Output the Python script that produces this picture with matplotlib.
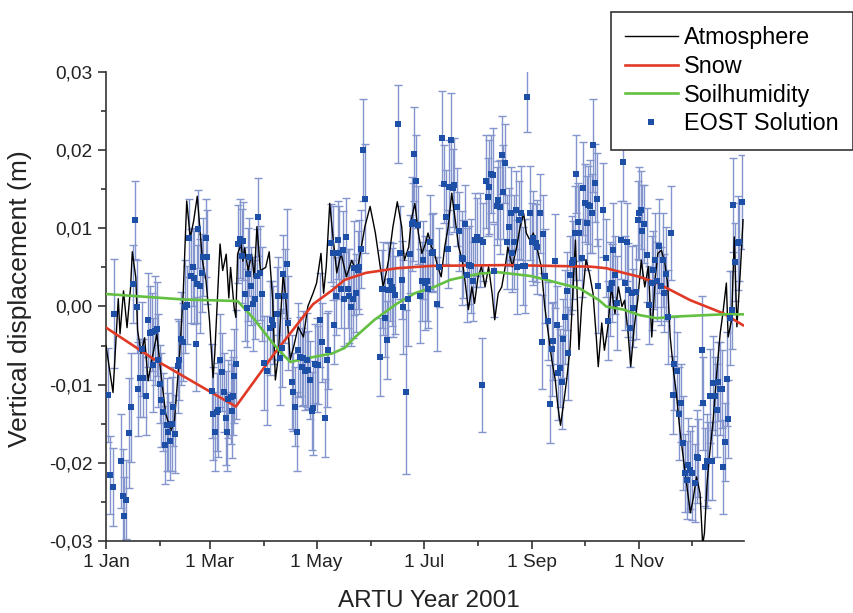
import numpy as np
import matplotlib
matplotlib.use("Agg")
import matplotlib.pyplot as plt
from matplotlib.ticker import FuncFormatter, MultipleLocator

plt.rcParams['font.family'] = ['Liberation Sans', 'DejaVu Sans']

# day of year 2001, values in mm (converted to m below)
atm_day = [1, 3, 5, 7, 8, 9, 11, 13, 15, 16, 18, 19, 21, 23, 25, 27, 30, 32, 35, 38,
           40, 43, 45, 47, 49, 51, 53, 54, 56, 58, 60, 62, 63, 64.5, 66, 67.5, 69.5, 71, 72, 74,
           75, 76, 78, 79, 80, 82, 84, 85.5, 87, 89, 92, 94, 96, 97.5, 99, 102, 103.5, 106, 108, 110.5,
           113.5, 116, 119, 121, 123.5, 125, 126.5, 128.5, 130.5, 132.5, 135, 138, 141, 144, 146.5, 148.5, 151.5, 154.5, 157, 159,
           162, 164.5, 167, 169.5, 171, 173.5, 175, 177, 179, 181, 183, 184.5, 186.5, 188, 190, 192, 194, 196, 198, 200,
           202, 204, 205.5, 207.5, 209.5, 211, 213, 215, 217, 219, 221, 222.5, 224.5, 226.5, 228.5, 230, 232.5, 235, 237, 239,
           240.5, 242.5, 244.5, 246.5, 249, 251, 253, 255, 257, 258.5, 260, 261.5, 263.5, 265.5, 267, 268.5, 270.5, 272, 274.5, 276.5,
           278.5, 280.5, 281.5, 283.5, 285, 287, 289, 291, 293, 295, 296.5, 298.5, 300, 302, 304, 306, 308, 310, 312, 314,
           315.5, 317.5, 319.5, 321, 322.5, 324.5, 326, 328, 331, 334, 335.5, 337.5, 339.5, 341, 342, 343.5, 345, 347, 349, 351,
           352.5, 354.5, 355.5, 357.5, 359, 360.5, 362.5, 364]
atm_mm = [-5, -8, -11, -3, 1, -3.5, 2, -2.7, 2.4, 7, 3.7, -3, -6, -4, -9.5, -7, -3.5, -8, -13.7, -15.9,
          -14.6, -6, 1.6, 13.5, 8.8, 11, 14.1, 11.4, 5.8, 3.3, -1.8, -9.1, -6, 1.1, 8, 4.6, 6.7, 1.1, 5, -0.1,
          -1.4, 6.7, 8, 5.8, 7.5, 4.6, 6.7, 3.7, 10.2, 4.6, 5, 7, 0.8, -9.4, -6.8, 4.3, 0.8, -6.8, -5.1, -2.6,
          -3.9, 0, 1.7, 3, 6.8, 1.7, 5.1, 13.2, 8.5, 4.3, 6.8, 3.8, 5.9, 4.3, 7.6, 10.2, 12.8, 9.4, 5.5, 2.5,
          5.9, 10.2, 13.4, 10.2, 5.9, 7.6, 11.1, 13.2, 9.4, 6.8, 8, 9.4, 7.6, 7, 5.1, 3.8, 7.6, 10.2, 14.5, 11.1,
          7.6, 5.9, 3.4, -0.4, 2.5, 0.4, 3.8, 5.1, 2.5, 5.1, 1.7, -1.7, 1.7, 2.5, 5.1, 7.6, 5.1, 7.6, 10.2, 11.9,
          9.4, 8.5, 9.4, 7.6, 5.1, 0, -3.4, -6.8, -9.4, -12.8, -15.2, -12.8, -9.4, -5.1, 1.7, 8.5, -5.5, 0, 6, 4.2,
          1.7, -4.3, -7.7, -2.1, -5.6, -2.6, 2.5, -0.9, 2.5, 0, 0.8, -3.4, -7.7, -2.6, 0.8, 5.9, 2.5, 5.1, -3.9, 3.8,
          6.8, 7.2, 5.5, 3, -3.9, -8.5, -11.1, -15.8, -21.3, -26.4, -24.7, -21.8, -23.9, -30.5, -29, -22.6, -18.8, -14.5, -8.5, -3.4,
          -0.9, 3, -3.9, -1.7, 8.9, -2.6, 4.7, 11.1]

snow_day = [1, 28, 75, 97, 119, 130, 137, 149, 167, 187, 230, 277, 286, 296, 305, 315, 334, 353, 364]
snow_mm = [-2.7, -6.7, -12.8, -6.0, 0.3, 2.1, 3.4, 4.3, 4.9, 5.2, 5.3, 5.1, 4.9, 4.3, 3.8, 3.0, 0.8, -0.9, -2.4]

soil_day = [1, 45, 76, 85, 95, 100, 106, 116, 130, 137, 143, 154, 167, 177, 188, 197, 205, 214, 224, 243,
            252, 271, 282, 286, 296, 305, 315, 324, 353, 364]
soil_mm = [1.6, 0.9, 0.7, -1.5, -4.4, -5.7, -7.1, -6.6, -6.0, -5.3, -3.9, -1.7, 0.4, 1.7, 2.5, 3.4, 3.8, 4.2, 4.4, 3.9,
           3.4, 2.3, 0.8, 0.0, -0.4, -1.1, -1.5, -1.3, -1.0, -1.0]

eost_day = [2.3, 3.3, 4.8, 5.6, 9.4, 10.5, 11.4, 12.4, 14.3, 15.2, 16.6, 17.5, 18.5, 19.4, 20.4, 21.3, 22.3, 23.6, 25.1, 26.1,
            27.0, 28.0, 28.9, 29.9, 30.8, 31.8, 32.3, 33.7, 34.6, 35.6, 36.5, 37.5, 38.4, 39.4, 40.3, 41.8, 42.8, 43.7, 45.1, 46.0,
            47.3, 48.1, 49.2, 50.4, 51.3, 52.3, 52.7, 53.6, 54.6, 55.5, 56.5, 58.0, 58.7, 61.2, 62.2, 63.1, 64.1, 65.0, 66.0, 67.3,
            68.2, 69.2, 70.1, 70.7, 72.0, 73.0, 73.6, 74.1, 74.9, 76.4, 77.4, 78.3, 79.3, 80.2, 81.2, 82.1, 82.7, 83.6, 85.0, 85.9,
            86.8, 87.8, 88.7, 90.1, 91.2, 92.5, 94.4, 95.4, 96.3, 98.2, 99.2, 100.1, 101.1, 102.0, 103.0, 103.9, 104.9, 107.2, 107.7, 108.7,
            109.6, 110.6, 111.5, 112.5, 113.4, 114.4, 115.3, 116.3, 117.2, 118.2, 119.1, 120.1, 121.0, 122.0, 122.9, 123.9, 125.8, 126.7, 127.7, 129.2,
            130.2, 131.1, 132.1, 133.0, 134.0, 134.9, 135.9, 136.8, 137.8, 138.7, 139.7, 140.6, 141.6, 142.5, 143.5, 144.4, 145.4, 146.3, 147.6, 148.6,
            157.1, 158.1, 159.0, 160.0, 160.9, 161.9, 162.8, 163.8, 164.7, 165.7, 167.6, 168.5, 169.5, 170.4, 171.8, 172.9, 174.2, 175.2, 176.1, 176.7,
            177.6, 178.6, 179.9, 180.9, 181.8, 182.8, 183.7, 184.7, 185.6, 186.6, 187.5, 189.4, 190.9, 192.6, 193.6, 194.7, 195.7, 196.4, 197.6, 198.5,
            199.5, 200.8, 202.3, 203.6, 204.6, 205.5, 206.5, 207.8, 208.8, 209.9, 211.2, 212.2, 214.1, 215.0, 216.0, 217.5, 218.5, 219.4, 220.4, 221.3,
            222.3, 223.6, 224.5, 225.5, 226.4, 227.4, 228.3, 229.7, 230.6, 231.6, 232.5, 233.5, 234.4, 235.4, 236.3, 237.3, 238.8, 239.7, 241.1, 242.6,
            243.5, 244.5, 245.8, 246.8, 248.3, 249.2, 250.2, 251.1, 253.0, 254.0, 254.9, 255.9, 256.8, 257.8, 258.7, 259.7, 260.6, 261.6, 262.5, 263.5,
            264.4, 265.4, 266.3, 267.3, 268.2, 268.8, 269.7, 270.7, 272.0, 273.0, 273.9, 274.9, 275.8, 276.8, 277.7, 278.7, 279.6, 280.6, 281.5, 284.4,
            285.9, 287.2, 288.2, 289.1, 290.1, 291.0, 292.0, 294.3, 295.8, 296.7, 297.7, 298.6, 299.6, 300.5, 301.5, 302.8, 303.9, 304.9, 305.7, 306.6,
            307.6, 309.1, 310.6, 311.9, 312.9, 314.0, 315.2, 316.1, 317.1, 318.2, 319.0, 320.1, 321.4, 323.0, 323.9, 324.9, 326.2, 327.5, 328.5, 330.0,
            331.0, 331.9, 332.8, 333.8, 334.7, 336.6, 337.6, 338.5, 340.4, 341.0, 342.3, 343.3, 344.2, 345.2, 346.1, 347.1, 348.0, 349.0, 349.9, 350.9,
            351.8, 352.8, 353.7, 354.7, 355.6, 356.6, 357.5, 358.5, 359.4, 361.0, 361.9, 363.2]
eost_mm = [-11.3, -21.6, -23.1, -0.9, -19.8, -24.2, -26.8, -24.7, -16.2, -12.9, 2.9, 11.1, 0, -10.6, -9.1, -5.4, -9.2, -11.5, -1.7, -3.4,
           -3.3, -7.5, -3.1, -2.9, -6.9, -9.9, -12.0, -13.5, -17.7, -15.1, -16.1, -17.2, -15.0, -12.8, -16.3, -7.6, -6.9, -4.1, -4.5, 0,
           0.2, 8.8, 3.9, 5.1, 3.7, -4.8, 2.9, 9.9, 2.6, 4.3, 6.3, 8.8, 6.3, -10.8, -13.7, -16.0, -13.5, -13.2, -6.9, -8.4,
           -11.0, -14.3, -16.0, -11.8, -11.6, -13.4, -11.5, -8.9, -7.4, 8.0, 8.7, 6.5, 8.4, 1.6, -0.2, 4.1, 6.3, 2.6, 0.3, 0.9,
           3.9, 11.4, 4.3, 1.6, -7.2, -8.2, -2.8, -1.7, -2.4, -0.9, 1.3, -6.6, -5.3, 4.2, 1.3, 5.5, -2.1, -9.7, -10.9, -12.8,
           -16.0, -5.6, -6.4, -7.7, -6.6, -8.3, -6.8, -8.1, -9.4, -13.4, -13.0, -7.3, -7.5, -7.5, -1.7, -4.6, -14.3, -6.8, -5.6, 8.1,
           6.8, -2.4, 1.3, 8.5, 6.9, 2.3, 7.2, 1.0, 8.9, 2.3, 1.3, 0, 1.0, 4.9, 1.7, 4.7, 5.1, 7.4, 20.0, 13.8,
           -6.5, 2.2, 2.3, -1.5, -4.3, 2.1, 3.2, 2.5, 2.1, 1.5, 23.3, 6.9, 3.4, -0.1, -10.9, 0.9, 6.7, 10.6, 10.8, 19.5,
           16.0, 10.4, 1.3, 3.2, 5.9, 3.0, 3.2, 2.2, 8.3, 6.8, 7.0, 0.3, 5.0, 21.6, 15.7, 11.5, 7.4, 15.3, 21.3, 15.2,
           15.5, 12.7, 9.6, 6.2, 6.1, 10.5, 4.0, 5.3, 5.2, 3.2, 8.5, 8.9, 8.5, -10.0, 8.2, 16.0, 14.0, 15.3, 17.0, 16.8,
           4.6, 12.9, 13.6, 12.7, 19.4, 14.6, 18.3, 8.3, 10.2, 11.9, 6.9, 8.3, 12.3, 5.1, 11.1, 12.0, 5.2, 5.2, 26.8, 12.0,
           8.3, 8.8, 8.1, 7.6, 11.9, -4.5, 9.3, 3.9, -1.9, -12.5, -5.5, -4.4, 5.8, -2.4, -8.5, -7.9, -9.7, -4.1, -1.3, 2.0,
           -6.0, 4.0, 5.6, 5.9, 9.4, 17.0, 10.8, 9.4, 6.2, 15.1, 13.2, 10.7, 13.0, 12.8, 11.9, 20.6, 15.8, 13.7, 2.6, 12.3,
           6.2, -1.8, 2.2, 3.0, 7.2, 4.0, 0.4, 8.5, 18.5, 3.0, 8.3, 2.1, -2.8, 1.7, -0.2, 1.9, 11.1, 11.9, 12.4, 9.6,
           10.6, 6.6, 0.2, 3.0, 4.7, 5.9, 3.2, 7.7, 2.6, 5.9, 1.7, 4.2, -1.3, 9.4, -11.3, -7.3, -8.3, -13.7, -12.4, -17.5,
           -21.3, -22.2, -20.3, -20.9, -21.3, -22.6, -19.2, -19.4, -5.6, -12.4, -20.5, -19.8, -19.8, -11.5, -19.8, -9.8, -11.5, -13.3, -9.6, -10.5,
           -10.6, -20.5, -17.3, -9.3, -14.4, -1.5, -0.4, 13.0, 5.7, 8.1, 8.3, 13.4]
eost_err = [6, 5, 5, 7, 6, 6, 5, 5, 7, 7, 5, 5, 6, 6, 5, 6, 5, 5, 6, 6,
            5, 6, 7, 6, 6, 5, 6, 5, 5, 6, 5, 5, 6, 5, 5, 6, 5, 6, 5, 6,
            5, 5, 6, 5, 6, 6, 5, 5, 6, 5, 5, 5, 6, 6, 6, 5, 5, 6, 6, 5,
            5, 6, 5, 5, 6, 6, 5, 6, 7, 5, 5, 6, 5, 6, 5, 6, 5, 5, 6, 5,
            6, 5, 6, 6, 6, 7, 6, 5, 5, 6, 5, 6, 5, 5, 6, 7, 6, 6, 5, 5,
            5, 6, 5, 5, 6, 5, 6, 5, 5, 5, 6, 5, 6, 5, 6, 5, 5, 6, 5, 5,
            6, 5, 5, 5, 6, 5, 5, 6, 5, 5, 6, 5, 5, 6, 5, 5, 6, 5, 6.5, 7,
            5, 5, 6, 5, 5, 6, 5, 5, 6, 5, 5, 6, 5, 6, 10.5, 6, 5, 6, 5, 6,
            6, 5, 6, 5, 5, 6, 5, 5, 6, 5, 5, 6, 5, 6, 5, 6, 5, 6, 6, 5,
            6, 5, 5, 6, 5, 5, 6, 5, 6, 5, 6, 5, 6, 6, 5, 6, 5, 6, 5, 6,
            6, 5, 5, 6, 5, 6, 5, 6, 5, 6, 5, 6, 5, 6, 5, 6, 5, 6, 4.5, 6,
            5, 6, 5, 6, 5, 6, 5, 6, 5, 5, 6, 5, 6, 5, 6, 5, 6, 5, 6, 5,
            6, 5, 6, 5, 6, 5, 5, 6, 5, 6, 5, 6, 5, 6, 5, 6, 5, 6, 6, 6,
            5, 5, 6, 5, 6, 5, 6, 5, 5, 6, 5, 6, 5, 6, 5, 6, 5, 6, 5, 6,
            5, 6, 5, 6, 5, 6, 5, 6, 5, 6, 5, 6, 6, 6, 5, 6, 5, 6, 5, 6,
            5, 5, 6, 5, 6, 5, 6, 5, 7, 6, 5, 6, 5, 6, 5, 6, 5, 6, 5, 6,
            5, 6, 5, 6, 5, 6, 5, 6, 5, 6, 5, 6]

month_ticks = [1, 60, 121, 182, 244, 305]
month_labels = ['1 Jan', '1 Mar', '1 May', '1 Jul', '1 Sep', '1 Nov']
minor_ticks = [32, 91, 152, 213, 274, 335]

atm = np.array(atm_mm) / 1000
snow = np.array(snow_mm) / 1000
soil = np.array(soil_mm) / 1000
eost = np.array(eost_mm) / 1000
err = np.array(eost_err) / 1000

fig = plt.figure(figsize=(8.54, 6.13), dpi=100)
ax = fig.add_axes([0.1241, 0.1175, 0.747, 0.765])

ax.errorbar(eost_day, eost, yerr=err, fmt='none', ecolor='#8395cc', elinewidth=1.0,
            capsize=3, capthick=1.0, zorder=1)
ax.plot(atm_day, atm, color='black', lw=1.0, label='Atmosphere', zorder=3)
ax.plot(snow_day, snow, color='#e03a27', lw=1.9, label='Snow', zorder=4)
ax.plot(soil_day, soil, color='#63c043', lw=1.9, label='Soilhumidity', zorder=4)
ax.plot(eost_day, eost, 's', color='#1c4fa5', ms=4, mew=0, label='EOST Solution', zorder=5)

ax.set_xlim(1, 364.5)
ax.set_ylim(-0.03, 0.03)
ax.set_xticks(month_ticks)
ax.set_xticklabels(month_labels)
ax.set_xticks(minor_ticks, minor=True)
ax.set_yticks(np.arange(-0.03, 0.0301, 0.01))
ax.yaxis.set_minor_locator(MultipleLocator(0.005))
ax.yaxis.set_major_formatter(FuncFormatter(lambda v, p: f"{v:.2f}".replace('.', ',').replace('-0,00', '0,00')))

for s in ['top', 'right']:
    ax.spines[s].set_visible(False)
for s in ['left', 'bottom']:
    ax.spines[s].set_linewidth(1.2)
    ax.spines[s].set_color('#333333')

ax.tick_params(which='major', direction='out', length=6, width=1.2, colors='#333333',
               labelsize=13.8, labelcolor='#222222')
ax.tick_params(which='minor', direction='out', length=3.5, width=1.2, colors='#333333')

ax.set_ylabel('Vertical displacement (m)', fontsize=19, color='#222222')
ax.yaxis.set_label_coords(-0.116, 0.517)
ax.set_xlabel('ARTU Year 2001', fontsize=17.5, color='#222222')
ax.xaxis.set_label_coords(0.506, -0.104)

leg = ax.legend(loc='upper right', bbox_to_anchor=(853 / 854, 1 - 12 / 613),
                bbox_transform=fig.transFigure, borderaxespad=0, fontsize=16.8,
                fancybox=False, edgecolor='#333333', framealpha=1,
                handlelength=2.3, handletextpad=0.26, labelspacing=0.25, borderpad=0.6)
leg.get_frame().set_linewidth(1.2)

fig.savefig('out.png', dpi=100)
